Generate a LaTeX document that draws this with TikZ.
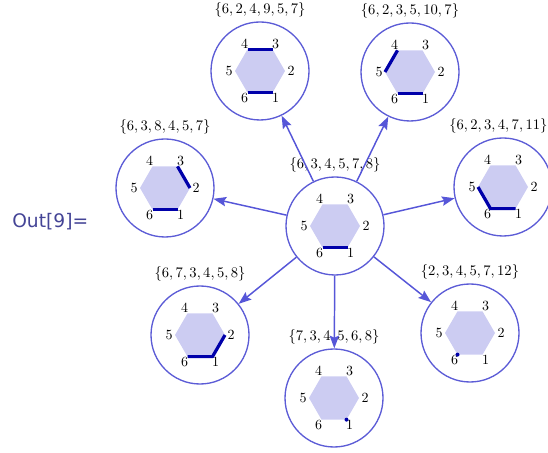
\documentclass[tikz,border=0pt]{standalone}
\usepackage{fontspec}
\newfontfamily\outfont{DejaVu Sans}
\usetikzlibrary{arrows.meta,calc}
\definecolor{ringblue}{RGB}{92,92,214}
\definecolor{edgeblue}{RGB}{86,86,216}
\definecolor{hexlav}{RGB}{204,204,242}
\definecolor{bondblue}{RGB}{0,0,170}
\definecolor{outblue}{RGB}{68,68,150}
\newcommand{\hexring}[1]{%
  \foreach \k/\a in {1/-60,2/0,3/60,4/120,5/180,6/240}
    \coordinate (#1-\k) at ($(#1)+(\a:25)$);
  \fill[hexlav] (#1-1) -- (#1-2) -- (#1-3) -- (#1-4) -- (#1-5) -- (#1-6) -- cycle;
  \foreach \k/\a in {1/-60,2/0,3/60,4/120,5/180,6/240}
    \node[vlab] (#1-n\k) at ($(#1)+(\a:31)$) {\k};
}

\begin{document}
\begin{tikzpicture}[x=0.75pt,y=0.75pt,
  ring/.style={circle,draw=ringblue,line width=1pt,minimum size=73.5pt,inner sep=0pt},
  setlab/.style={anchor=south,inner sep=3pt,font=\fontsize{10.5}{12}\selectfont},
  vlab/.style={inner sep=0pt,font=\fontsize{10.5}{12}\selectfont},
  bond/.style={draw=bondblue,line width=2.4pt,line join=round},
  flow/.style={-{Stealth[length=9.5pt,width=7pt,inset=1.5pt]},line width=1.1pt,draw=edgeblue}
]
  \useasboundingbox (0,0) rectangle (548,452);

  \node[anchor=base west,text=outblue,inner sep=0pt,font=\fontsize{14}{16}\outfont] (out) at (12,224) {Out[9]=};

  \node[ring] (c) at (335,226) {};
  \node[ring] (tl) at (260,381) {};
  \node[ring] (tr) at (410,380) {};
  \node[ring] (l) at (165,264) {};
  \node[ring] (r) at (503,265) {};
  \node[ring] (bl) at (200,117) {};
  \node[ring] (br) at (470,119) {};
  \node[ring] (b) at (334,54) {};

  \node[setlab] (c-s) at (c.north) {$\{6,3,4,5,7,8\}$};
  \node[setlab] (tl-s) at (tl.north) {$\{6,2,4,9,5,7\}$};
  \node[setlab] (tr-s) at (tr.north) {$\{6,2,3,5,10,7\}$};
  \node[setlab] (l-s) at (l.north) {$\{6,3,8,4,5,7\}$};
  \node[setlab,xshift=-3.5pt] (r-s) at (r.north) {$\{6,2,3,4,7,11\}$};
  \node[setlab] (bl-s) at (bl.north) {$\{6,7,3,4,5,8\}$};
  \node[setlab] (br-s) at (br.north) {$\{2,3,4,5,7,12\}$};
  \node[setlab] (b-s) at (b.north) {$\{7,3,4,5,6,8\}$};

  \foreach \n in {c,tl,tr,l,r,bl,br,b} {\hexring{\n}}

  \draw[bond] (c-6) -- (c-1);
  \draw[bond] (tl-4) -- (tl-3);
  \draw[bond] (tl-6) -- (tl-1);
  \draw[bond] (tr-4) -- (tr-5);
  \draw[bond] (tr-6) -- (tr-1);
  \draw[bond] (l-3) -- (l-2);
  \draw[bond] (l-6) -- (l-1);
  \draw[bond] (r-5) -- (r-6) -- (r-1);
  \draw[bond] (bl-6) -- (bl-1) -- (bl-2);
  \fill[bondblue] (br-6) circle (2);
  \fill[bondblue] (b-1) circle (2);

  \draw[flow] (c) -- (tl);
  \draw[flow] (c) -- (tr);
  \draw[flow] (c) -- (l);
  \draw[flow] (c) -- (r);
  \draw[flow] (c) -- (bl);
  \draw[flow] (c) -- (br);
  \draw[flow] (c) -- (b);
\end{tikzpicture}
\end{document}
